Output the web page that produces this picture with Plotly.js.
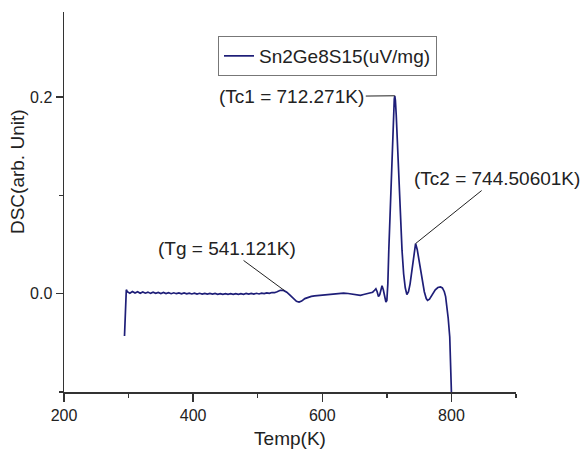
<!DOCTYPE html>
<html>
<head>
<meta charset="utf-8">
<script src="https://cdn.plot.ly/plotly-3.0.1.min.js"></script>
<style>html,body{margin:0;padding:0;background:#fff;}#chart{width:584px;height:453px;}</style>
</head>
<body>
<div id="chart"></div>
<script>
// Temperature (K)
const temp = [
  293.7, 294.5, 295.5, 296.5, 298,
  302, 306, 310, 314, 318, 322, 326, 330, 334, 338, 342, 346, 350, 354, 358,
  362, 366, 370, 374, 378, 382, 386, 390, 394, 398, 402, 406, 410, 414, 418,
  422, 426, 430, 434, 438, 442, 446, 450, 454, 458, 462, 466, 470, 474, 478,
  482, 486, 490, 494, 498, 502, 506, 510, 514, 518, 522, 526,
  530, 535, 540, 545, 550, 555, 560, 564, 568, 573, 578, 583, 588, 594, 600,
  607, 613, 620, 626, 633, 640, 646, 652, 659, 664, 669, 674, 678, 681, 683,
  685, 687, 689, 690.5, 692.5, 694.5, 696.5, 698.5, 700, 701.5, 703, 705.5,
  708, 710, 711.5, 712.271, 713.2, 714.5, 716.8, 720, 723.5, 726, 728.5, 731,
  733.5, 736, 739, 742, 744.5, 747, 750, 752, 755, 758, 761, 763, 766, 770,
  775, 779, 783, 786, 789, 791, 793, 795, 797.4, 799.5, 800.2
];
// DSC signal (arb. unit)
const dsc = [
  -0.043, -0.02, 0.0, 0.004, 0.002,
  0.0005, 0.0022, 0.0006, 0.002, 0.0004, 0.0018, 0.0005, 0.0016, 0.0003, 0.0015, 0.0004, 0.0013, 0.0002, 0.0012, 0.0001,
  0.001, 0.0, 0.0009, 0.0, 0.0008, -0.0002, 0.0007, -0.0002, 0.0006, -0.0003, 0.0005, -0.0004, 0.0004, -0.0004, 0.0003,
  -0.0005, 0.0002, -0.0005, 0.0002, -0.0006, 0.0001, -0.0006, 0.0001, -0.0007, 0.0, -0.0007, 0.0, -0.0006, 0.0001, -0.0006,
  0.0002, -0.0005, 0.0002, -0.0004, 0.0004, -0.0003, 0.0005, 0.0, 0.0008, 0.0003, 0.0012, 0.001,
  0.002, 0.0035, 0.0033, 0.0015, -0.0015, -0.005, -0.0078, -0.0086, -0.0075, -0.005, -0.0035, -0.0028, -0.0022, -0.0018, -0.0012,
  -0.0007, -0.0002, 0.0, 0.0004, 0.0006, 0.0002, -0.0004, -0.001, -0.0017, -0.0008, 0.0, 0.0006, 0.0015, 0.0035, 0.005,
  0.002, -0.003, -0.001, 0.004, 0.008, 0.004, -0.003, -0.0085, -0.007, 0.01, 0.044, 0.095,
  0.146, 0.183, 0.198, 0.2013, 0.197, 0.182, 0.146, 0.095, 0.044, 0.02, 0.006, -0.001,
  0.002, 0.01, 0.024, 0.042, 0.051, 0.045, 0.033, 0.024, 0.011, 0.002, -0.005, -0.0068, -0.0055, -0.001,
  0.004, 0.0063, 0.0068, 0.0058, 0.002, -0.003, -0.0137, -0.025, -0.044, -0.078, -0.105
];

const seriesName = "Sn2Ge8S15(uV/mg)";
const xTitle = "Temp(K)";
const yTitle = "DSC(arb. Unit)";
const xTickVals = [200, 400, 600, 800];
const xMinorVals = [300, 500, 700, 900];
const yTickVals = [0, 0.2];
const yTickText = ["0.0", "0.2"];
const yMinorVals = [-0.1, 0.1];

// annotated points
const annLabels = ["(Tg = 541.121K)", "(Tc1 = 712.271K)", "(Tc2 = 744.50601K)"];
const annX = [541.121, 712.271, 744.50601];
const annY = [0.0033, 0.2013, 0.051];

const lineColor = "#1e1e78";
const axisColor = "#333333";
const font = "Liberation Sans, Arial, sans-serif";

const trace = {
  x: temp, y: dsc, type: "scatter", mode: "lines", name: seriesName,
  line: {color: lineColor, width: 1.7}
};

const offsets = [[-57, -42], [-103, 1], [81, -65]];
const annotations = annLabels.map((t, i) => ({
  x: annX[i], y: annY[i], xref: "x", yref: "y",
  text: t, showarrow: true, arrowhead: 0, arrowwidth: 1, arrowcolor: "#222",
  ax: offsets[i][0], ay: offsets[i][1],
  font: {family: font, size: 19, color: "#222"}
}));
annotations.push({
  xref: "paper", yref: "paper", x: -0.103, y: 0.58, xanchor: "center", yanchor: "middle",
  text: yTitle, textangle: -90, showarrow: false,
  font: {family: font, size: 19, color: "#222"}
});

const layout = {
  width: 584, height: 453,
  margin: {l: 64, r: 68, t: 12, b: 61},
  paper_bgcolor: "#fff", plot_bgcolor: "#fff",
  showlegend: true,
  legend: {
    x: 0.3407, y: 0.9368, xanchor: "left", yanchor: "top",
    bordercolor: "#777", borderwidth: 1, bgcolor: "#fff",
    font: {family: font, size: 19, color: "#222"},
    tracegroupgap: 0
  },
  xaxis: {
    range: [200, 900], showgrid: false, zeroline: false,
    showline: true, linecolor: axisColor, linewidth: 1.5,
    tickmode: "array", tickvals: xTickVals,
    ticks: "outside", ticklen: 8, tickwidth: 1.5, tickcolor: axisColor,
    minor: {tickmode: "array", tickvals: xMinorVals, ticks: "outside", ticklen: 4, tickwidth: 1.5, tickcolor: axisColor, showgrid: false},
    tickfont: {family: font, size: 16, color: "#222"},
    title: {text: xTitle, font: {family: font, size: 19, color: "#222"}, standoff: 9},
    automargin: false
  },
  yaxis: {
    range: [-0.1, 0.2865], showgrid: false, zeroline: false,
    showline: true, linecolor: axisColor, linewidth: 1.5,
    tickmode: "array", tickvals: yTickVals, ticktext: yTickText,
    ticks: "outside", ticklen: 7, tickwidth: 1.5, tickcolor: axisColor,
    minor: {tickmode: "array", tickvals: yMinorVals, ticks: "outside", ticklen: 4, tickwidth: 1.5, tickcolor: axisColor, showgrid: false},
    tickfont: {family: font, size: 16, color: "#222"},
    automargin: false
  },
  annotations: annotations
};

Plotly.newPlot("chart", [trace], layout, {displayModeBar: false, staticPlot: true});
</script>
</body>
</html>
